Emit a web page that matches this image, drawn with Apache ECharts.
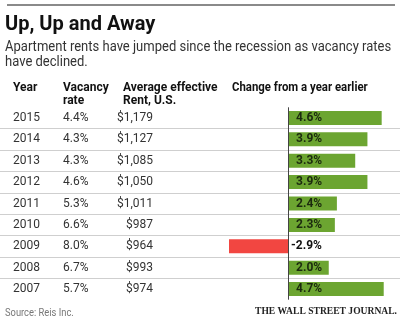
<!DOCTYPE html>
<html><head><meta charset="utf-8">
<script src="https://cdn.jsdelivr.net/npm/echarts@6/dist/echarts.min.js"></script>
<style>html,body{margin:0;padding:0;background:#fff}#c{width:400px;height:323px}</style>
</head><body><div id="c"></div>
<script>
const years = ['2015','2014','2013','2012','2011','2010','2009','2008','2007'];
const vacancy = ['4.4%','4.3%','4.3%','4.6%','5.3%','6.6%','8.0%','6.7%','5.7%'];
const rent = ['$1,179','$1,127','$1,085','$1,050','$1,011','$987','$964','$993','$974'];
const change = [4.6, 3.9, 3.3, 3.9, 2.4, 2.3, -2.9, 2.0, 4.7];

const R = 'Roboto,"Liberation Sans",sans-serif';
const chart = echarts.init(document.getElementById('c'), null, {renderer:'canvas'});
const txt = (x, y, text, font, fill, sx) => ({type: 'text', x: x, y: y, scaleX: sx || 1,
  style: {text: text, font: font, fill: fill, textVerticalAlign: 'middle'}});
chart.setOption({
  animation: false,
  backgroundColor: '#fff',
  grid: {left: 0, right: 0, top: 107.3, height: 192.4},
  xAxis: {type: 'value', min: -14.15, max: 5.5, show: false},
  yAxis: {
    type: 'category', data: years, inverse: true,
    axisLine: {show: false}, axisTick: {show: false},
    splitLine: {show: true, showMinLine: false, showMaxLine: false, lineStyle: {color: '#cfcfcf', width: 1}},
    axisLabel: {
      inside: true, margin: 13,
      formatter: (v, i) => '{y|' + v + '}{v|' + vacancy[i] + '}{r|' + rent[i] + '}',
      rich: {
        y: {width: 50, fontSize: 12, fontFamily: R, color: '#333'},
        v: {width: 40, fontSize: 12, fontFamily: R, color: '#333'},
        r: {width: 50, align: 'right', fontSize: 12, fontFamily: R, color: '#333'}
      }
    }
  },
  series: [{
    type: 'bar', barWidth: 14,
    data: change.map(v => ({
      value: v,
      itemStyle: {color: v < 0 ? '#f24641' : '#6ca531'},
      label: v < 0 ? {position: 'right', distance: 3, color: '#111'} : {}
    })),
    label: {
      show: true, position: 'insideLeft', distance: 8,
      formatter: p => p.value.toFixed(1) + '%',
      fontFamily: R, fontWeight: 'bold', fontSize: 12, color: '#1b2a0e'
    },
    markLine: {
      silent: true, symbol: 'none', label: {show: false},
      lineStyle: {color: '#444', width: 1, type: 'solid'},
      data: [{xAxis: 0}]
    }
  }],
  graphic: [
    {type: 'line', shape: {x1: 7, y1: 5, x2: 395, y2: 5}, style: {stroke: '#8a8a8a', lineWidth: 2}},
    txt(5, 25, 'Up, Up and Away', 'bold 20px ' + R, '#111'),
    txt(5, 47.5, 'Apartment rents have jumped since the recession as vacancy rates', '14px ' + R, '#333', 0.93),
    txt(5, 62.5, 'have declined.', '14px ' + R, '#333', 0.93),
    txt(13, 87.5, 'Year', 'bold 12px ' + R, '#111'),
    txt(63, 87.5, 'Vacancy', 'bold 12px ' + R, '#111'),
    txt(63, 101, 'rate', 'bold 12px ' + R, '#111'),
    txt(123, 87.5, 'Average effective', 'bold 12px ' + R, '#111'),
    txt(123, 101, 'Rent, U.S.', 'bold 12px ' + R, '#111'),
    txt(232, 87.5, 'Change from a year earlier', 'bold 12px ' + R, '#111', 0.95),
    txt(5, 313, 'Source: Reis Inc.', '11px ' + R, '#777', 0.85),
    txt(255, 311, 'THE WALL STREET JOURNAL.', 'bold 11px "Liberation Serif","DejaVu Serif",serif', '#222', 0.87)
  ]
});
</script></body></html>
